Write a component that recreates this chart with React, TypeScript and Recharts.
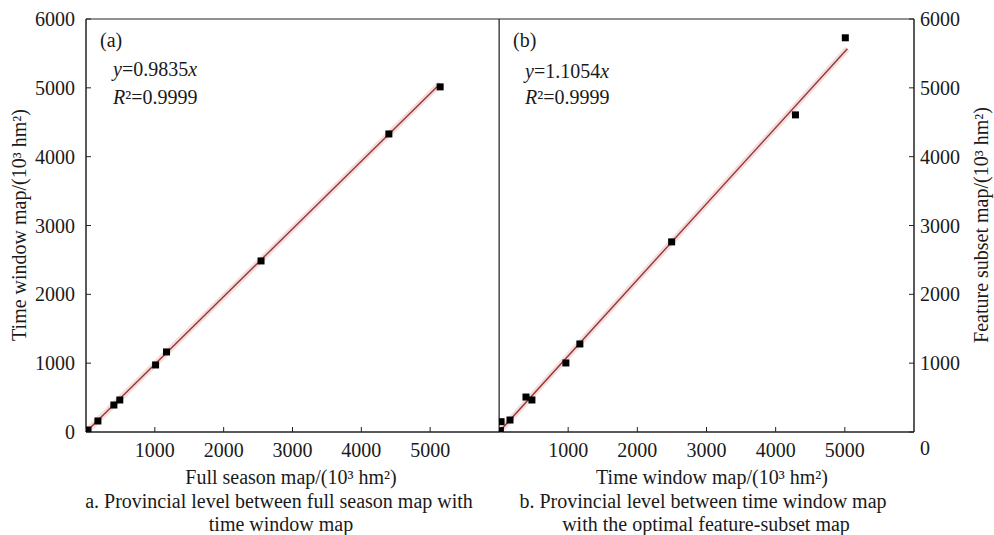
import React from 'react';
import { ScatterChart, Scatter, XAxis, YAxis, ReferenceLine, ReferenceArea } from 'recharts';

// Panel (a): full season map (x) vs time window map (y)
const fullSeasonX = [29, 173, 405, 491, 1011, 1170, 2543, 4400, 5145];
const timeWindowY = [29, 160, 392, 465, 974, 1163, 2485, 4330, 5014];
// Panel (b): time window map (x) vs feature subset map (y)
const timeWindowX = [20, 30, 159, 390, 476, 967, 1169, 2496, 4286, 5007];
const featureSubsetY = [20, 150, 174, 508, 465, 1003, 1279, 2762, 4607, 5727];

const slopes = [0.9835, 1.1054];
const xTicks = [1000, 2000, 3000, 4000, 5000];
const yTicks = [0, 1000, 2000, 3000, 4000, 5000, 6000];
const domainMax = 6000;

const dataA = fullSeasonX.map((x, i) => ({ x, y: timeWindowY[i] }));
const dataB = timeWindowX.map((x, i) => ({ x, y: featureSubsetY[i] }));
const maxA = Math.max(...fullSeasonX);
const maxB = Math.max(...timeWindowX) + 30;

const FONT = '"Liberation Serif", "Times New Roman", serif';
const LINE = '#9a3535';
const FS = 20;

const Square = (props: any) => {
  const { cx, cy } = props;
  if (cx == null || cy == null) return null;
  return <rect x={cx - 3.5} y={cy - 3.5} width={7} height={7} fill="#000" />;
};

const tickStyle = { fontSize: FS, fill: '#1a1a1a', fontFamily: FONT };

const RightTick = (props: any) => {
  const { x, y, payload } = props;
  const isZero = payload.value === 0;
  return (
    <text x={x} y={y + (isZero ? 16 : 0)} dy="0.355em" textAnchor="start" fontSize={FS} fill="#1a1a1a" fontFamily={FONT}>
      {payload.value}
    </text>
  );
};

const base: any = {
  position: 'absolute',
  lineHeight: '22px',
  fontSize: FS,
  whiteSpace: 'nowrap',
  color: '#1a1a1a',
};

const Txt = ({ cx, cy, children, w = 600 }: any) => (
  <div style={{ ...base, left: cx - w / 2, top: cy - 11, width: w, textAlign: 'center' }}>{children}</div>
);

const LeftTxt = ({ x, cy, children }: any) => (
  <div style={{ ...base, left: x, top: cy - 11 }}>{children}</div>
);

const VTxt = ({ cx, cy, children }: any) => (
  <div
    style={{
      ...base,
      lineHeight: '20px',
      left: cx - 200,
      top: cy - 10,
      width: 400,
      textAlign: 'center',
      transform: 'rotate(-90deg)',
      transformOrigin: '50% 50%',
    }}
  >
    {children}
  </div>
);

export default function App() {
  return (
    <div
      style={{
        position: 'absolute',
        left: 0,
        top: 0,
        width: 994,
        height: 535,
        background: '#fff',
        fontFamily: FONT,
        overflow: 'hidden',
      }}
    >
      <div style={{ position: 'absolute', left: 0, top: 0 }}>
        <ScatterChart width={500} height={535} margin={{ top: 19, right: 1, bottom: 63, left: 16 }}>
          <XAxis
            type="number"
            dataKey="x"
            domain={[0, domainMax]}
            ticks={xTicks}
            height={40}
            tickSize={-5}
            tickMargin={16}
            tick={tickStyle}
            stroke="#222"
            allowDataOverflow
          />
          <YAxis
            type="number"
            dataKey="y"
            domain={[0, domainMax]}
            ticks={yTicks}
            width={70}
            tickSize={-5}
            tickMargin={16}
            tick={tickStyle}
            stroke="#222"
            allowDataOverflow
          />
          <ReferenceArea x1={0} x2={domainMax} y1={0} y2={domainMax} fill="none" stroke="#222" strokeWidth={1} />
          <ReferenceLine
            segment={[{ x: 0, y: 0 }, { x: maxA, y: slopes[0] * maxA }]}
            stroke="#f3dede"
            strokeWidth={6}
          />
          <ReferenceLine
            segment={[{ x: 0, y: 0 }, { x: maxA, y: slopes[0] * maxA }]}
            stroke={LINE}
            strokeWidth={1.4}
          />
          <Scatter data={dataA} shape={Square} isAnimationActive={false} />
        </ScatterChart>
      </div>
      <div style={{ position: 'absolute', left: 499, top: 0 }}>
        <ScatterChart width={495} height={535} margin={{ top: 19, right: 20, bottom: 63, left: 0 }}>
          <XAxis
            type="number"
            dataKey="x"
            domain={[0, domainMax]}
            ticks={xTicks}
            height={40}
            tickSize={-5}
            tickMargin={16}
            tick={tickStyle}
            stroke="#222"
            allowDataOverflow
          />
          <YAxis
            type="number"
            dataKey="y"
            orientation="right"
            domain={[0, domainMax]}
            ticks={yTicks}
            width={60}
            tickSize={-5}
            tickMargin={11}
            tick={<RightTick />}
            stroke="#222"
            allowDataOverflow
          />
          <ReferenceArea x1={0} x2={domainMax} y1={0} y2={domainMax} fill="none" stroke="#222" strokeWidth={1} />
          <ReferenceLine
            segment={[{ x: 0, y: 0 }, { x: maxB, y: slopes[1] * maxB }]}
            stroke="#f3dede"
            strokeWidth={6}
          />
          <ReferenceLine
            segment={[{ x: 0, y: 0 }, { x: maxB, y: slopes[1] * maxB }]}
            stroke={LINE}
            strokeWidth={1.4}
          />
          <Scatter data={dataB} shape={Square} isAnimationActive={false} />
        </ScatterChart>
      </div>

      <LeftTxt x={100} cy={40}>(a)</LeftTxt>
      <LeftTxt x={113} cy={69}>
        <i>y</i>=0.9835<i>x</i>
      </LeftTxt>
      <LeftTxt x={113} cy={97}>
        <i>R</i>²=0.9999
      </LeftTxt>
      <LeftTxt x={513} cy={40}>(b)</LeftTxt>
      <LeftTxt x={525} cy={71}>
        <i>y</i>=1.1054<i>x</i>
      </LeftTxt>
      <LeftTxt x={525} cy={97}>
        <i>R</i>²=0.9999
      </LeftTxt>

      <VTxt cx={19} cy={225}>Time window map/(10³ hm²)</VTxt>
      <VTxt cx={981} cy={225}>Feature subset map/(10³ hm²)</VTxt>

      <Txt cx={291} cy={477}>Full season map/(10³ hm²)</Txt>
      <Txt cx={279} cy={501}>a. Provincial level between full season map with</Txt>
      <Txt cx={281} cy={524}>time window map</Txt>
      <Txt cx={712} cy={477}>Time window map/(10³ hm²)</Txt>
      <Txt cx={703} cy={501}>b. Provincial level between time window map</Txt>
      <Txt cx={706} cy={524}>with the optimal feature-subset map</Txt>
    </div>
  );
}
